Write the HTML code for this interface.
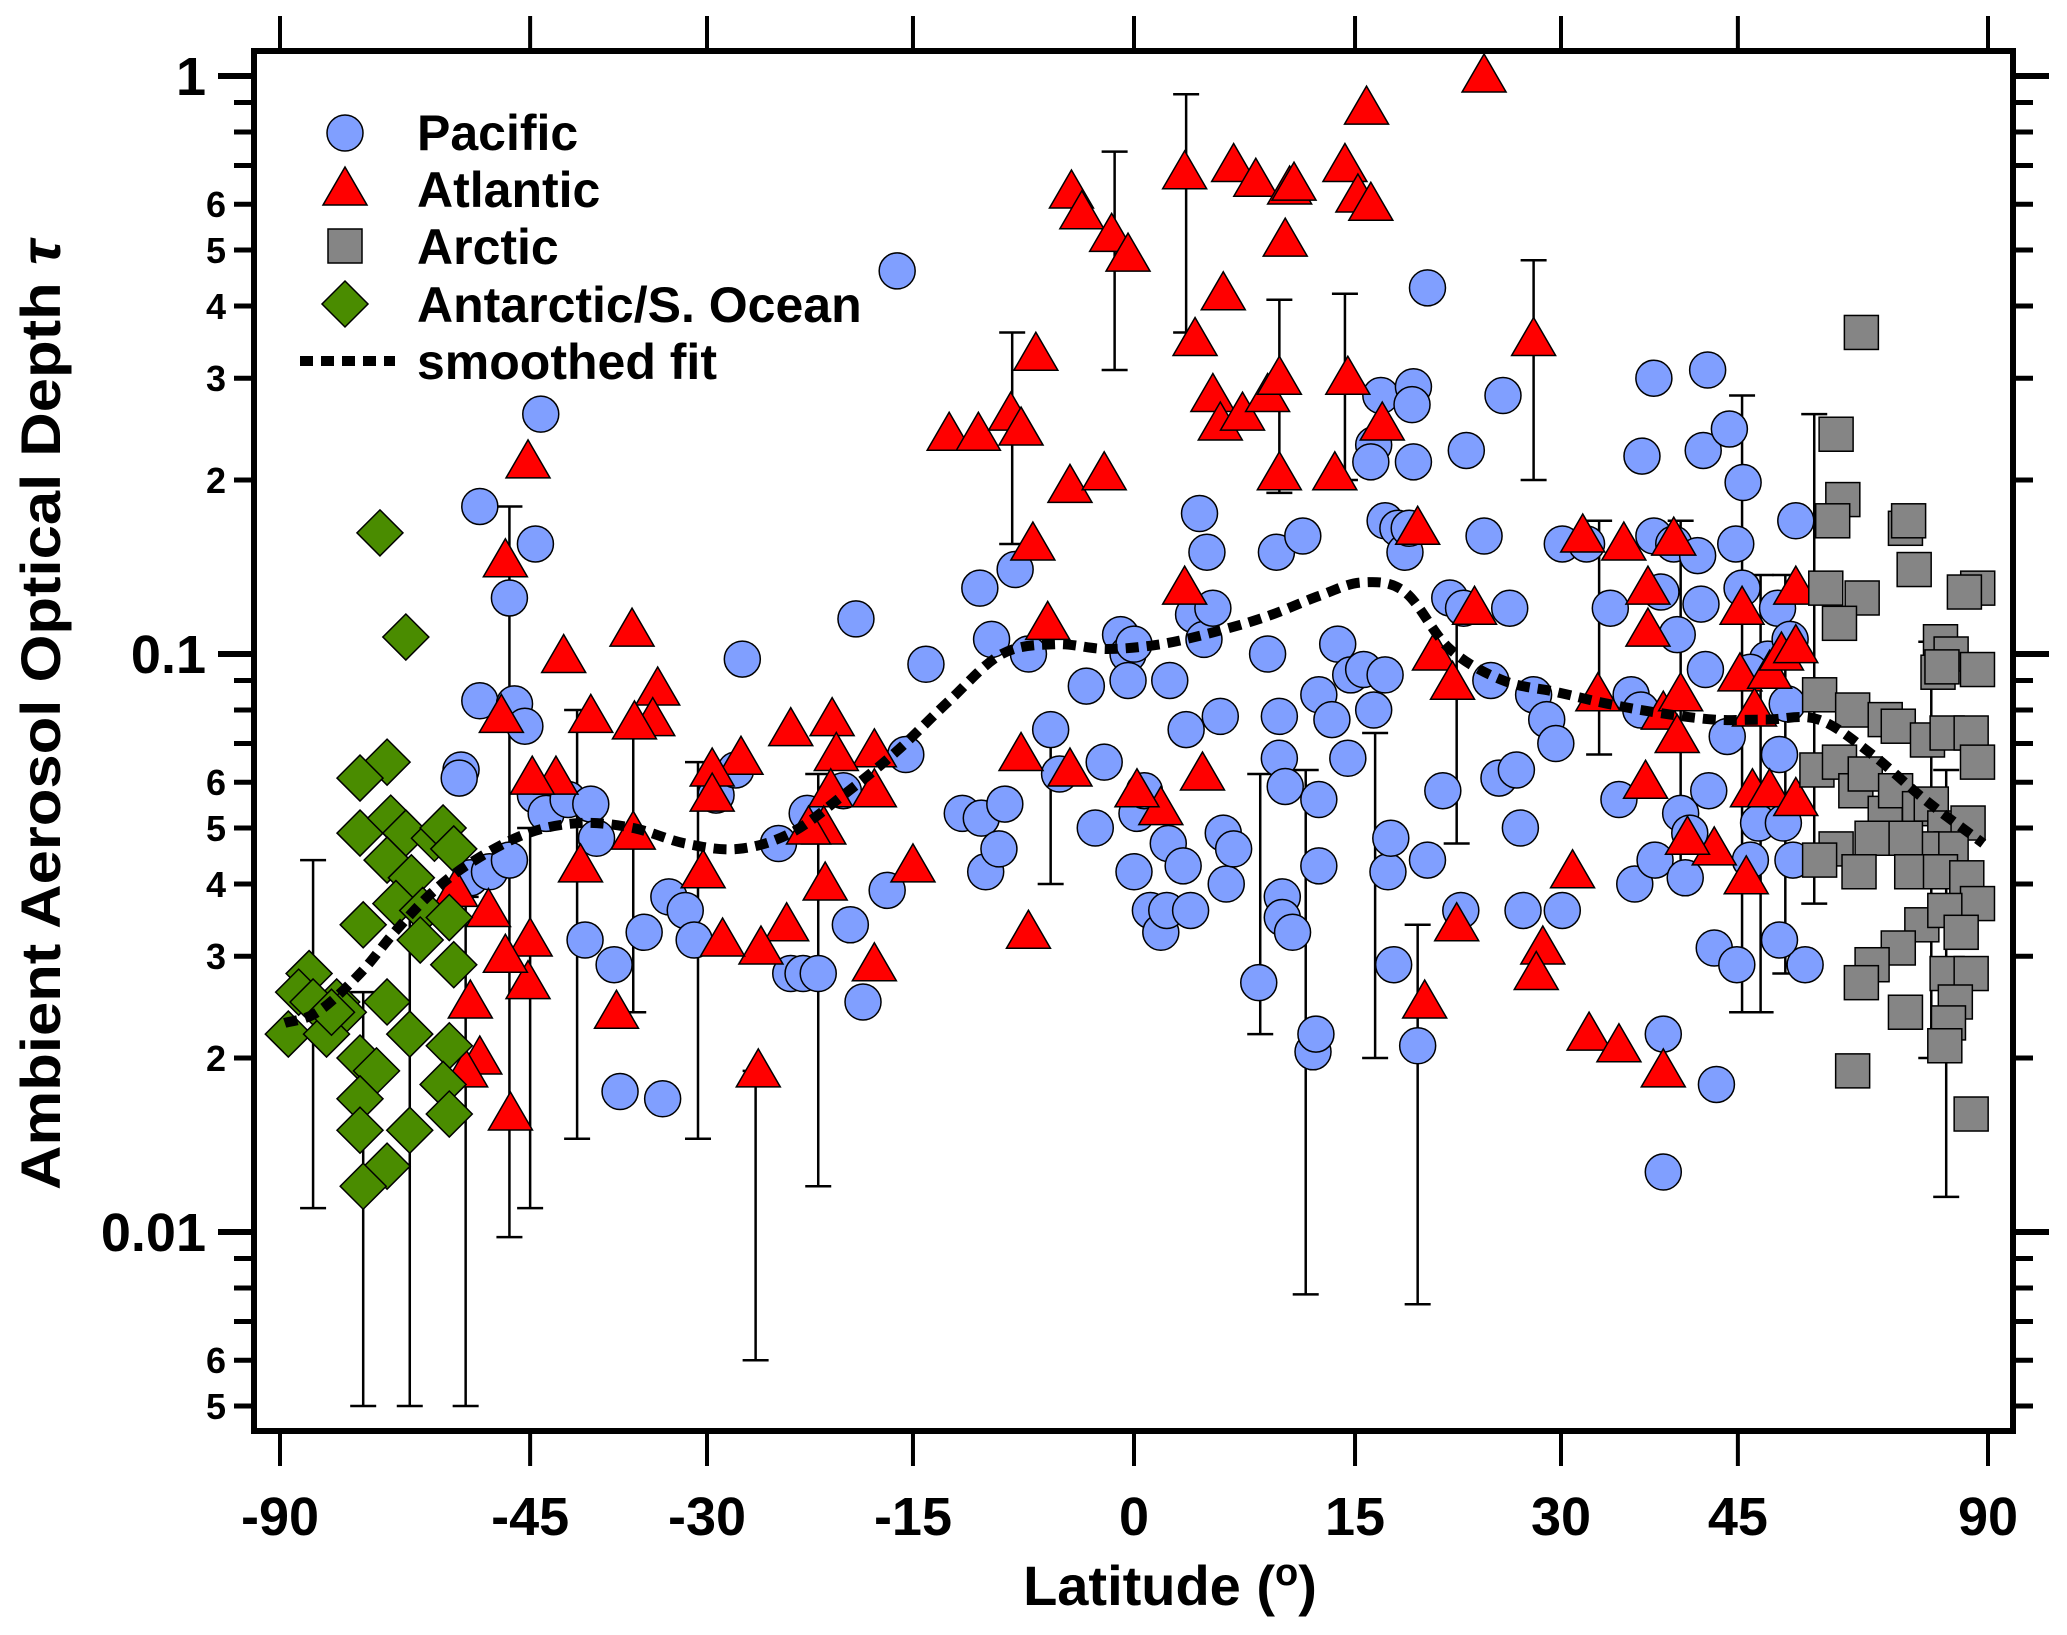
<!DOCTYPE html>
<html><head><meta charset="utf-8"><style>
html,body{margin:0;padding:0;background:#fff;}
svg{display:block;font-family:"Liberation Sans",Arial,sans-serif;font-weight:bold;}
</style></head><body>
<svg id="chart" width="2067" height="1635" viewBox="0 0 2067 1635" xmlns="http://www.w3.org/2000/svg">
<rect x="0" y="0" width="2067" height="1635" fill="#fff"/>
<g id="grid-layer"></g>
<rect x="254" y="51" width="1759" height="1380" fill="none" stroke="#000" stroke-width="6"/>
<g id="axes"></g>
<text x="1170" y="1605" font-size="56" text-anchor="middle">Latitude (<tspan font-size="38" dy="-20">o</tspan><tspan dy="20">)</tspan></text>
<text transform="translate(60,715) rotate(-90)" font-size="56" text-anchor="middle" textLength="950" lengthAdjust="spacingAndGlyphs">Ambient Aerosol Optical Depth <tspan font-style="italic">τ</tspan></text>
<g>
  <circle cx="345" cy="133" r="18" fill="#809fff" stroke="#000" stroke-width="1.5"/>
  <text x="417" y="150" font-size="50">Pacific</text>
  <polygon points="345,167 367,205 323,205" fill="#f00" stroke="#000" stroke-width="1.5"/>
  <text x="417" y="207" font-size="50">Atlantic</text>
  <rect x="328" y="229" width="34" height="34" fill="#858585" stroke="#000" stroke-width="1.5"/>
  <text x="417" y="264" font-size="50">Arctic</text>
  <polygon points="345,281 368,304 345,327 322,304" fill="#4a8c00" stroke="#000" stroke-width="1.5"/>
  <text x="417" y="322" font-size="50">Antarctic/S. Ocean</text>
  <line x1="300" y1="361" x2="395" y2="361" stroke="#000" stroke-width="10" stroke-dasharray="13,8"/>
  <text x="417" y="379" font-size="50">smoothed fit</text>
</g>
</svg>
<script>
const xTicks=[-90,-45,-30,-15,0,15,30,45,90];
const yMajor=[1,0.1,0.01];
const yMinorLabeled=[6,5,4,3,2];
const yMinorUnlabeled=[9,8,7];

const pacLat=[-16.1,-44,-50,-44.5,-47,-50,-46.5,-45.5,-52,-52.2,-51,-49,-47,-44.5,-43.5,-41.5,-39.5,-39,-40,-37.5,-37,-33.5,-35,-33,-31.7,-31,-29.3,-27.3,-27.8,-24.6,-23.7,-22.8,-21.7,-22.5,-19.9,-19.4,-18.5,-19,-16.8,-15.5,-14.1,-11.6,-10.3,-10,-9.1,-8.7,-10.4,-9.6,-8,-7.1,-5.6,-5,-3.2,-2.6,-2,-0.9,-0.4,-0.4,0,0.2,0,0.7,1.1,1.8,2.2,2.3,2.4,3.3,3.8,3.5,4,4.4,4.7,4.9,5.3,5.8,6,6.2,6.7,8.4,9,9.6,9.8,9.8,10.2,10,10,10.7,11.4,12.1,12.3,12.5,12.5,12.5,13.4,13.8,14.5,14.7,15.6,16.3,16.1,16.8,17.1,17.1,16.3,17.3,17.5,17.7,18,18.5,18.8,19.1,19,19.1,20.1,20.1,19.4,21.2,21.7,22.9,22.7,22.5,24.2,24.7,25.3,25.6,26.1,26.6,26.9,27.1,27.9,28.9,29.6,30.1,30.1,32,33.9,34.6,35.6,35.9,36.4,36.5,37.5,37.5,38.1,38.3,38.3,37.6,39.2,39.5,39.8,40.2,40.6,41.3,41.6,41.8,42.2,42,42.3,42.8,43,44,44.2,44.8,45.4,45.5,44.9,46.2,47,47.9,48.9,49.1,49.5,49.9,50.8,50.2,50.5,51.8,49.1,46.2];
const pacTau=[0.46,0.26,0.18,0.155,0.125,0.083,0.082,0.075,0.063,0.061,0.041,0.042,0.044,0.057,0.053,0.056,0.055,0.048,0.032,0.029,0.0175,0.017,0.033,0.038,0.036,0.032,0.057,0.098,0.063,0.047,0.028,0.028,0.028,0.053,0.058,0.034,0.025,0.115,0.039,0.067,0.096,0.053,0.052,0.042,0.046,0.055,0.13,0.106,0.14,0.1,0.074,0.062,0.088,0.05,0.065,0.108,0.1,0.09,0.104,0.053,0.042,0.058,0.036,0.033,0.036,0.047,0.09,0.043,0.036,0.074,0.117,0.175,0.106,0.15,0.12,0.078,0.049,0.04,0.046,0.027,0.1,0.15,0.078,0.066,0.059,0.038,0.035,0.033,0.16,0.0205,0.022,0.085,0.056,0.043,0.077,0.104,0.066,0.092,0.094,0.23,0.215,0.28,0.17,0.092,0.08,0.042,0.048,0.029,0.165,0.15,0.165,0.29,0.27,0.215,0.43,0.044,0.021,0.058,0.125,0.225,0.12,0.036,0.16,0.09,0.061,0.28,0.12,0.063,0.05,0.036,0.085,0.077,0.07,0.036,0.155,0.155,0.12,0.056,0.085,0.04,0.08,0.22,0.3,0.16,0.128,0.022,0.0127,0.044,0.155,0.108,0.053,0.041,0.049,0.148,0.122,0.225,0.31,0.094,0.058,0.031,0.018,0.072,0.245,0.155,0.13,0.198,0.029,0.044,0.051,0.098,0.12,0.067,0.051,0.082,0.17,0.106,0.044,0.029,0.032,0.093];

const atlLat=[24.2,15.8,3.4,6.7,8.2,10.5,10.8,10.2,14.3,15.2,16.1,-4.2,-3.5,-1.5,-0.4,6,4.1,14.5,27.9,5.3,5.8,7.3,9,9.8,16.9,13.6,9.8,-12.5,-10.5,-6.6,-8.3,-7.6,-4.3,-2,-6.8,3.4,19.4,23.5,20.6,21.9,31.7,35,37,39.2,37,38.3,39.5,39.8,32.9,45.4,45.2,46.6,48.1,49.3,50.8,50.8,46.4,48.1,50.8,45.8,42.8,40.4,36.8,30.9,28.6,28.1,32.2,34.6,38.3,19.9,22.2,4.6,1.8,0.2,-4.3,-5.8,-7.6,-7.1,-15,-17.7,-17.7,-17.7,-20.7,-20.4,-20.8,-21.3,-21.2,-22.4,-23.7,-24,-26.1,-25.9,-27.4,-28.8,-29.6,-29.6,-30.3,-33.9,-34.3,-35.8,-36,-35.9,-37.3,-39.5,-41.9,-40.4,-42.6,-45.2,-47.4,-47.8,-44.8,-45,-45.2,-47.4,-49.1,-52.6,-51,-50,-51.5,-46.9];
const atlTau=[1.0,0.88,0.68,0.7,0.66,0.64,0.65,0.52,0.7,0.62,0.6,0.63,0.58,0.53,0.49,0.42,0.35,0.3,0.35,0.28,0.25,0.26,0.28,0.3,0.25,0.205,0.205,0.24,0.24,0.33,0.26,0.245,0.195,0.205,0.155,0.13,0.165,0.12,0.1,0.089,0.16,0.155,0.13,0.158,0.11,0.079,0.072,0.085,0.085,0.12,0.092,0.08,0.093,0.1,0.13,0.103,0.058,0.058,0.056,0.041,0.046,0.048,0.06,0.042,0.031,0.028,0.022,0.021,0.019,0.025,0.034,0.062,0.054,0.058,0.063,0.113,0.067,0.033,0.043,0.068,0.058,0.029,0.077,0.067,0.058,0.05,0.04,0.05,0.074,0.034,0.019,0.031,0.066,0.032,0.063,0.057,0.042,0.087,0.077,0.076,0.11,0.049,0.024,0.078,0.099,0.043,0.061,0.215,0.145,0.078,0.061,0.032,0.027,0.03,0.036,0.039,0.025,0.02,0.019,0.016];

const arcLat=[58.4,55.3,56.1,54.9,64.6,65.1,66,81.1,76.5,58.5,54.1,55.7,70.8,73.1,70.3,81,71.1,53.4,57.3,61.6,63.5,68.3,72.2,78.6,81,53.1,55.7,57.7,58.9,61.6,63.1,66.9,69,71.7,77.6,73.1,67.3,64.6,59.8,55.3,53.4,58.1,65.6,70.8,77.2,81,67.3,71.7,75.6,63.5,59.8,58.4,72.2,78.6,64.6,74.1,72.5,71.7,78.6,57.3];
const arcTau=[0.36,0.24,0.185,0.17,0.165,0.17,0.14,0.13,0.128,0.125,0.13,0.113,0.105,0.1,0.093,0.094,0.095,0.085,0.08,0.077,0.075,0.071,0.073,0.073,0.065,0.063,0.065,0.058,0.062,0.053,0.058,0.054,0.055,0.05,0.051,0.046,0.046,0.048,0.048,0.046,0.044,0.042,0.042,0.042,0.041,0.037,0.034,0.036,0.033,0.031,0.029,0.027,0.028,0.028,0.024,0.025,0.023,0.021,0.016,0.019];

const antLat=[-62,-58.5,-61,-65,-65,-60.5,-58.5,-55,-54,-61,-57.8,-52.8,-59.8,-56.4,-53.3,-64.5,-52.8,-56.7,-75,-78,-61,-69,-67.8,-74,-82,-71,-65,-62.5,-58,-53.3,-54,-53.3,-58,-65,-65,-61,-64.5,-70];
const antTau=[0.162,0.107,0.065,0.061,0.049,0.052,0.049,0.048,0.05,0.044,0.041,0.046,0.037,0.036,0.035,0.034,0.029,0.032,0.028,0.026,0.025,0.025,0.024,0.025,0.022,0.022,0.02,0.019,0.022,0.021,0.018,0.016,0.015,0.017,0.015,0.013,0.012,0.024];

const fitLat=[-84,-73,-65,-60,-55,-50.5,-45.2,-40.4,-35.9,-31.7,-27.6,-23.7,-19.9,-16.1,-12.5,-8.9,-5.3,-1.8,1.8,5.3,8.9,12.5,15.5,18.5,21.7,25.6,29.6,33.7,38.1,42.8,47.8,53.3,59.8,67.8,84];
const fitTau=[0.023,0.024,0.028,0.033,0.039,0.044,0.049,0.051,0.05,0.047,0.046,0.049,0.057,0.068,0.083,0.1,0.104,0.102,0.104,0.109,0.116,0.126,0.133,0.128,0.102,0.09,0.086,0.082,0.079,0.077,0.077,0.077,0.067,0.056,0.047];

const errLat=[-74,-64.5,-58,-51.5,-47,-45,-40.7,-35.9,-30.7,-26.3,-21.7,-8.2,-5.6,-1.3,3.5,9.8,14.3,8.5,11.6,16.4,19.4,22.2,27.9,33,39.8,45.4,47.2,52.8,69,72,49.7];
const errLo=[0.011,0.005,0.005,0.005,0.0098,0.011,0.0145,0.024,0.0145,0.006,0.012,0.155,0.04,0.31,0.36,0.19,0.2,0.022,0.0078,0.02,0.0075,0.047,0.2,0.067,0.042,0.024,0.024,0.037,0.02,0.0115,0.028];
const errHi=[0.044,0.026,0.036,0.038,0.18,0.05,0.08,0.072,0.065,0.019,0.062,0.36,0.075,0.74,0.93,0.41,0.42,0.062,0.063,0.073,0.034,0.12,0.48,0.17,0.17,0.28,0.137,0.26,0.105,0.063,0.137];

const NS='http://www.w3.org/2000/svg';
function xs(lat){return 1134+854*Math.sin(lat*Math.PI/180);}
function ys(t){return 76-578*Math.log10(t);}
const marks=document.getElementById('grid-layer');
const axes=document.getElementById('axes');
function mk(tag,attrs,parent){const e=document.createElementNS(NS,tag);for(const k in attrs)e.setAttribute(k,attrs[k]);parent.appendChild(e);return e;}

const defs=mk('defs',{},marks);
const cp=mk('clipPath',{id:'clip'},defs);
mk('rect',{x:254,y:51,width:1759,height:1380},cp);
const g=mk('g',{'clip-path':'url(#clip)'},marks);

for(let i=0;i<errLat.length;i++){
  const x=xs(errLat[i]),y1=ys(errHi[i]),y2=ys(errLo[i]);
  const eb=mk('g',{stroke:'#000','stroke-width':2.5},g);
  
  
  mk('line',{x1:x,y1:y1,x2:x,y2:y2},eb);
  mk('line',{x1:x-13,y1:y1,x2:x+13,y2:y1},eb);
  mk('line',{x1:x-13,y1:y2,x2:x+13,y2:y2},eb);
}
for(let i=0;i<pacLat.length;i++){
  const c=mk('circle',{cx:xs(pacLat[i]),cy:ys(pacTau[i]),r:18,fill:'#809fff',stroke:'#000','stroke-width':1.5},g);
  
  
}
for(let i=0;i<atlLat.length;i++){
  const x=xs(atlLat[i]),y=ys(atlTau[i]);
  const p=mk('polygon',{points:`${x},${y-22} ${x+22},${y+16} ${x-22},${y+16}`,fill:'#f00',stroke:'#000','stroke-width':1.5},g);
  
  
}
for(let i=0;i<arcLat.length;i++){
  const x=xs(arcLat[i]),y=ys(arcTau[i]);
  const r=mk('rect',{x:x-17,y:y-17,width:34,height:34,fill:'#858585',stroke:'#000','stroke-width':1.5},g);
  
  
}
for(let i=0;i<antLat.length;i++){
  const x=xs(antLat[i]),y=ys(antTau[i]);
  const p=mk('polygon',{points:`${x},${y-23} ${x+23},${y} ${x},${y+23} ${x-23},${y}`,fill:'#4a8c00',stroke:'#000','stroke-width':1.5},g);
  
  
}
// smooth fit (Catmull-Rom)
const P=fitLat.map((v,i)=>[xs(v),ys(fitTau[i])]);
let d='M'+P[0][0].toFixed(1)+','+P[0][1].toFixed(1);
for(let i=0;i<P.length-1;i++){
  const p0=P[Math.max(0,i-1)],p1=P[i],p2=P[i+1],p3=P[Math.min(P.length-1,i+2)];
  const c1=[p1[0]+(p2[0]-p0[0])/6,p1[1]+(p2[1]-p0[1])/6];
  const c2=[p2[0]-(p3[0]-p1[0])/6,p2[1]-(p3[1]-p1[1])/6];
  d+=`C${c1[0].toFixed(1)},${c1[1].toFixed(1)} ${c2[0].toFixed(1)},${c2[1].toFixed(1)} ${p2[0].toFixed(1)},${p2[1].toFixed(1)}`;
}
const fl=mk('path',{d:d,fill:'none',stroke:'#000','stroke-width':10,'stroke-dasharray':'13,8'},g);



for(const t of xTicks){
  const x=xs(t);
  const tb=mk('line',{x1:x,y1:1431,x2:x,y2:1466,stroke:'#000','stroke-width':4},axes);
  
  
  const tt=mk('line',{x1:x,y1:16,x2:x,y2:51,stroke:'#000','stroke-width':4},axes);
  
  
  const lb=mk('text',{x:x,y:1535,'font-size':54,'text-anchor':'middle'},axes);
  lb.textContent=String(t);
  
  
}
function yt(v,len,w){
  const y=ys(v);
  if(y<51||y>1431)return;
  const a=mk('line',{x1:254-len,y1:y,x2:254,y2:y,stroke:'#000','stroke-width':w},axes);
  
  
  const b=mk('line',{x1:2013,y1:y,x2:2013+len,y2:y,stroke:'#000','stroke-width':w},axes);
  
  
}
for(const v of yMajor){
  yt(v,36,6);
  const l=mk('text',{x:206,y:ys(v)+19,'font-size':54,'text-anchor':'end'},axes);
  l.textContent=String(v);
  
  
}
for(const dec of [0.001,0.01,0.1]){
  for(const m of yMinorLabeled){
    const v=m*dec; yt(v,20,5);
    const y=ys(v); if(y<51||y>1431) continue;
    const l=mk('text',{x:226,y:y+13,'font-size':36,'text-anchor':'end'},axes);
    l.textContent=String(m);
    
    
  }
  for(const m of yMinorUnlabeled){yt(m*dec,20,5);}
}
</script>
</body></html>
